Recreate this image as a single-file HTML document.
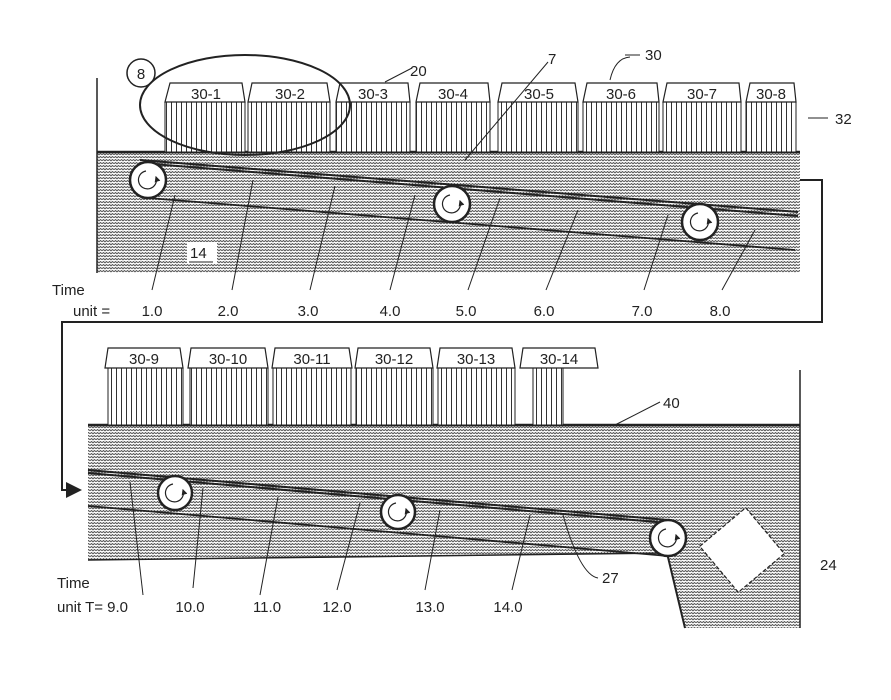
<!DOCTYPE html>
<html><head><meta charset="utf-8"><style>
html,body{margin:0;padding:0;background:#fff}
svg{display:block}
text{font-family:"Liberation Sans",sans-serif;font-size:15px;fill:#222}
</style></head><body>
<svg width="891" height="700" viewBox="0 0 891 700" xmlns="http://www.w3.org/2000/svg">
<defs>
<pattern id="wv" width="6" height="3" patternUnits="userSpaceOnUse">
<rect width="6" height="3" fill="#fff"/>
<path d="M0 1.8 L1.5 0.5 L3 1.8 L4.5 0.5 L6 1.8" stroke="#555" stroke-width="1" fill="none"/>
</pattern>
<pattern id="br" width="5" height="10" patternUnits="userSpaceOnUse">
<rect width="5" height="10" fill="#fff"/>
<line x1="1.5" y1="0" x2="1.5" y2="10" stroke="#333" stroke-width="1"/>
</pattern>
<marker id="ar" markerWidth="8" markerHeight="8" refX="7" refY="4" orient="auto"><path d="M0 0 L8 4 L0 8 z" fill="#222"/></marker>
<marker id="sa" markerWidth="5" markerHeight="5" refX="4" refY="2.5" orient="auto"><path d="M0 0 L5 2.5 L0 5 z" fill="#222"/></marker>
<g id="rot"><path d="M-2 -9 A9 9 0 1 0 8 -3" fill="none" stroke="#222" stroke-width="1.2" marker-end="url(#sa)"/></g>
</defs>

<!-- TOP PANEL -->
<rect x="97" y="152" width="703" height="121" fill="url(#wv)"/>
<line x1="97" y1="78" x2="97" y2="273" stroke="#222" stroke-width="1.5"/>
<line x1="97" y1="152" x2="800" y2="152" stroke="#222" stroke-width="2.5"/>
<g fill="url(#br)" stroke="#222">
<rect x="165" y="102" width="80" height="50"/>
<rect x="248" y="102" width="82" height="50"/>
<rect x="336" y="102" width="74" height="50"/>
<rect x="416" y="102" width="74" height="50"/>
<rect x="498" y="102" width="80" height="50"/>
<rect x="583" y="102" width="76" height="50"/>
<rect x="663" y="102" width="78" height="50"/>
<rect x="746" y="102" width="50" height="50"/>
</g>
<g fill="#fff" stroke="#222" stroke-width="1.2">
<polygon points="170,83 242,83 245,102 165,102"/>
<polygon points="252,83 327,83 330,102 248,102"/>
<polygon points="340,83 408,83 410,102 336,102"/>
<polygon points="420,83 488,83 490,102 416,102"/>
<polygon points="502,83 575,83 578,102 498,102"/>
<polygon points="587,83 657,83 659,102 583,102"/>
<polygon points="667,83 739,83 741,102 663,102"/>
<polygon points="750,83 794,83 796,102 746,102"/>
</g>
<g text-anchor="middle">
<text x="206" y="99">30-1</text><text x="290" y="99">30-2</text><text x="373" y="99">30-3</text>
<text x="453" y="99">30-4</text><text x="539" y="99">30-5</text><text x="621" y="99">30-6</text>
<text x="702" y="99">30-7</text><text x="771" y="99">30-8</text>
</g>
<g stroke="#222" fill="none" stroke-width="2">
<line x1="140" y1="160" x2="798" y2="212"/>
<line x1="140" y1="163" x2="798" y2="216"/>
<line x1="148" y1="198" x2="795" y2="250" stroke-width="1.8"/>
</g>
<g fill="#fff" stroke="#222" stroke-width="2.5">
<circle cx="148" cy="180" r="18"/><circle cx="452" cy="204" r="18"/><circle cx="700" cy="222" r="18"/>
</g>
<use href="#rot" x="148" y="180"/><use href="#rot" x="452" y="204"/><use href="#rot" x="700" y="222"/>
<circle cx="141" cy="73" r="14" fill="none" stroke="#222" stroke-width="1.5"/>
<text x="141" y="79" text-anchor="middle">8</text>
<ellipse cx="245" cy="105" rx="105" ry="50" fill="none" stroke="#222" stroke-width="2"/>
<polyline points="800,180 822,180 822,322 62,322 62,490 80,490" fill="none" stroke="#222" stroke-width="2" marker-end="url(#ar)"/>
<g stroke="#222" stroke-width="1">
<line x1="152" y1="290" x2="175" y2="195"/><line x1="232" y1="290" x2="253" y2="180"/>
<line x1="310" y1="290" x2="335" y2="186"/><line x1="390" y1="290" x2="415" y2="195"/>
<line x1="468" y1="290" x2="500" y2="198"/><line x1="546" y1="290" x2="578" y2="210"/>
<line x1="644" y1="290" x2="668" y2="215"/><line x1="722" y1="290" x2="755" y2="230"/>
<line x1="548" y1="62" x2="465" y2="160"/><line x1="412" y1="68" x2="385" y2="82"/>
<line x1="640" y1="55" x2="625" y2="55"/><path d="M630 57 Q615 58 610 80" fill="none"/>
<line x1="828" y1="118" x2="808" y2="118"/>
</g>
<text x="548" y="64">7</text><text x="410" y="76">20</text><text x="645" y="60">30</text><text x="835" y="124">32</text>
<rect x="187" y="242" width="30" height="22" fill="#fff"/>
<text x="190" y="258">14</text><line x1="189" y1="262" x2="213" y2="262" stroke="#222"/>
<text x="52" y="295">Time</text><text x="73" y="316">unit =</text>
<g text-anchor="middle">
<text x="152" y="316">1.0</text><text x="228" y="316">2.0</text><text x="308" y="316">3.0</text>
<text x="390" y="316">4.0</text><text x="466" y="316">5.0</text><text x="544" y="316">6.0</text>
<text x="642" y="316">7.0</text><text x="720" y="316">8.0</text>
</g>

<!-- BOTTOM PANEL -->
<polygon points="88,425 800,425 800,628 685,628 667,553 88,560" fill="url(#wv)"/>
<line x1="88" y1="560" x2="667" y2="553" stroke="#222" stroke-width="1.5"/>
<line x1="88" y1="425" x2="800" y2="425" stroke="#222" stroke-width="2.5"/>
<line x1="800" y1="370" x2="800" y2="628" stroke="#222" stroke-width="1.5"/>
<g fill="url(#br)" stroke="#222">
<rect x="108" y="368" width="75" height="57"/><rect x="190" y="368" width="78" height="57"/>
<rect x="273" y="368" width="78" height="57"/><rect x="356" y="368" width="77" height="57"/>
<rect x="438" y="368" width="77" height="57"/><rect x="533" y="368" width="30" height="57"/>
</g>
<g fill="#fff" stroke="#222" stroke-width="1.2">
<polygon points="108,348 180,348 183,368 105,368"/>
<polygon points="191,348 265,348 268,368 188,368"/>
<polygon points="275,348 349,348 352,368 272,368"/>
<polygon points="358,348 430,348 433,368 355,368"/>
<polygon points="440,348 512,348 515,368 437,368"/>
<polygon points="523,348 595,348 598,368 520,368"/>
</g>
<g text-anchor="middle">
<text x="144" y="364">30-9</text><text x="228" y="364">30-10</text><text x="312" y="364">30-11</text>
<text x="394" y="364">30-12</text><text x="476" y="364">30-13</text><text x="559" y="364">30-14</text>
</g>
<rect x="712" y="520" width="60" height="60" fill="#fff" stroke="#222" stroke-width="1.2" stroke-dasharray="4 2" transform="rotate(-40 742 550)"/>
<line x1="667" y1="553" x2="685" y2="628" stroke="#222" stroke-width="2"/>
<g stroke="#222" fill="none" stroke-width="2">
<line x1="88" y1="470" x2="668" y2="520"/>
<line x1="88" y1="473" x2="668" y2="523"/>
<line x1="88" y1="506" x2="668" y2="556" stroke-width="1.8"/>
</g>
<g fill="#fff" stroke="#222" stroke-width="2.5">
<circle cx="175" cy="493" r="17"/><circle cx="398" cy="512" r="17"/><circle cx="668" cy="538" r="18"/>
</g>
<use href="#rot" x="175" y="493"/><use href="#rot" x="398" y="512"/><use href="#rot" x="668" y="538"/>
<g stroke="#222" stroke-width="1">
<line x1="143" y1="595" x2="130" y2="482"/><line x1="193" y1="588" x2="203" y2="488"/>
<line x1="260" y1="595" x2="278" y2="497"/><line x1="337" y1="590" x2="360" y2="503"/>
<line x1="425" y1="590" x2="440" y2="510"/><line x1="512" y1="590" x2="530" y2="515"/>
<path d="M598 578 Q580 575 563 515" fill="none"/>
<line x1="660" y1="402" x2="615" y2="425"/>
</g>
<text x="663" y="408">40</text><text x="602" y="583">27</text><text x="820" y="570">24</text>
<text x="57" y="588">Time</text><text x="57" y="612">unit T= 9.0</text>
<g text-anchor="middle">
<text x="190" y="612">10.0</text><text x="267" y="612">11.0</text><text x="337" y="612">12.0</text>
<text x="430" y="612">13.0</text><text x="508" y="612">14.0</text>
</g>
</svg>
</body></html>
